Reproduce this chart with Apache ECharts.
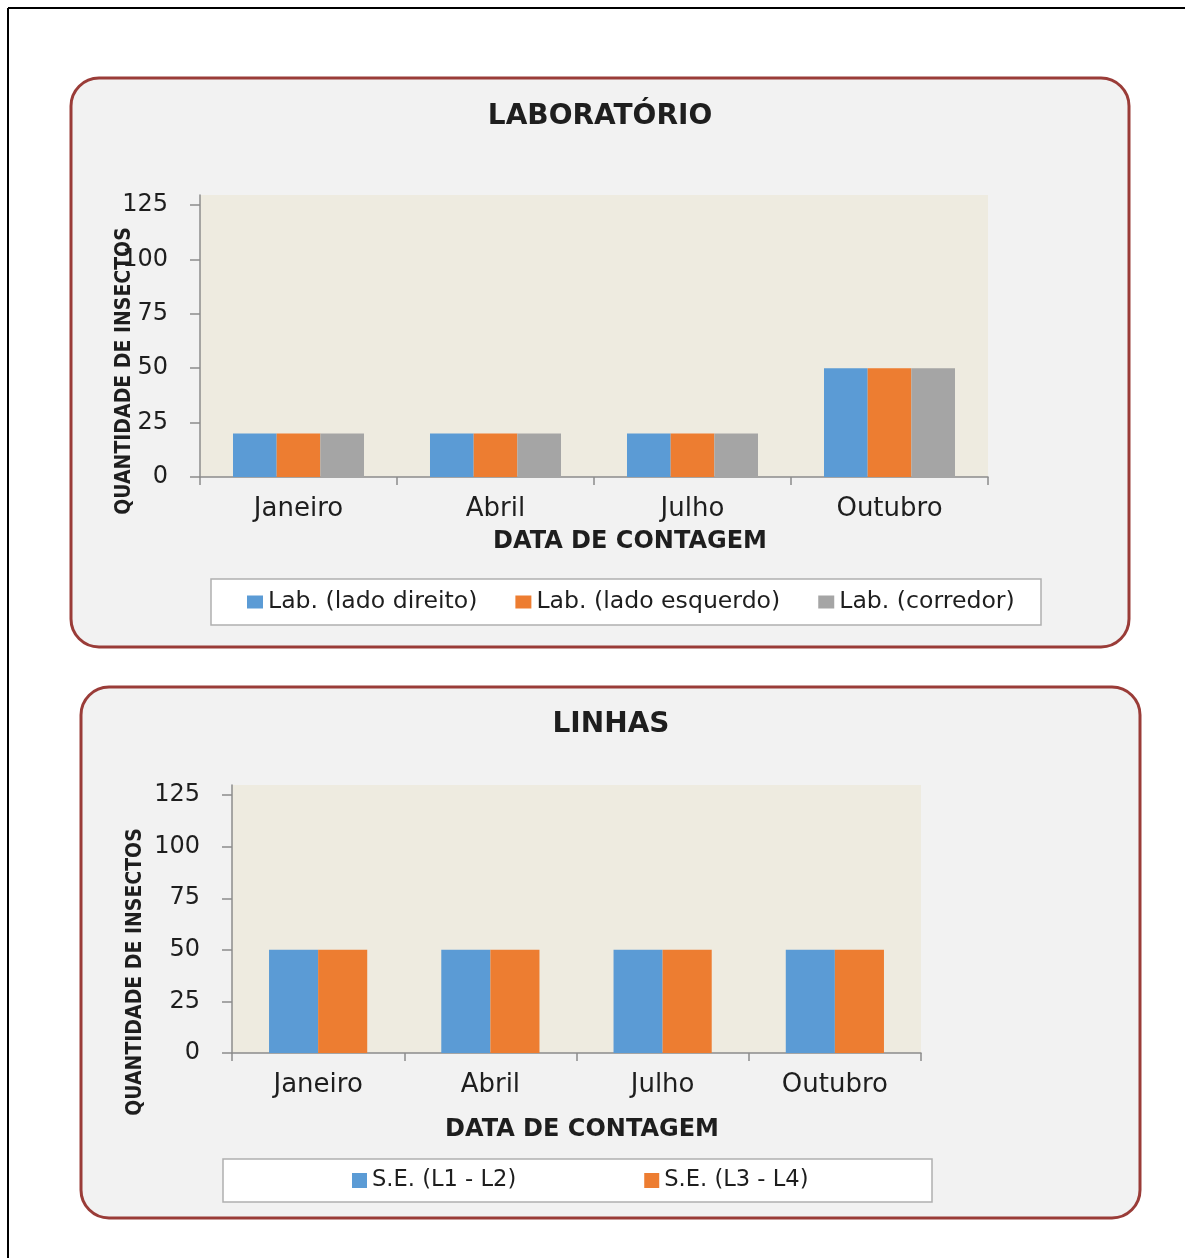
<!DOCTYPE html>
<html>
<head>
<meta charset="utf-8">
<title>Quantidade de insectos</title>
<script src="https://cdn.jsdelivr.net/npm/echarts@6/dist/echarts.min.js"></script>
<style>
html, body { margin: 0; padding: 0; background: #fff; }
#chart { width: 1185px; height: 1258px; }
</style>
</head>
<body>
<div id="chart"></div>
<script>
// dados
var categories = ['Janeiro', 'Abril', 'Julho', 'Outubro'];
var yTicks = [0, 25, 50, 75, 100, 125];

var labNames = ['Lab. (lado direito)', 'Lab. (lado esquerdo)', 'Lab. (corredor)'];
var labDireito = [20, 20, 20, 50];
var labEsquerdo = [20, 20, 20, 50];
var labCorredor = [20, 20, 20, 50];

var linhasNames = ['S.E. (L1 - L2)', 'S.E. (L3 - L4)'];
var linhasL1L2 = [50, 50, 50, 50];
var linhasL3L4 = [50, 50, 50, 50];

var FONT = "'DejaVu Sans', sans-serif";
var TXT = '#1e1e1e';
var AXIS = '#8c8c8c';
var BOX = '#9a3c38';

function xAxisCfg(grid) {
  return {
    type: 'category', gridIndex: grid, data: categories,
    axisLine: { lineStyle: { color: AXIS, width: 1.5 } },
    axisTick: { show: true, length: 8, lineStyle: { color: AXIS, width: 1.5 } },
    axisLabel: { fontSize: 26, color: TXT, margin: 19, fontFamily: FONT },
    splitLine: { show: false }
  };
}
function yAxisCfg(grid, max) {
  return {
    type: 'value', gridIndex: grid, min: 0, max: max,
    axisLine: { show: true, lineStyle: { color: AXIS, width: 1.5 } },
    axisTick: { show: true, length: 10, customValues: yTicks, lineStyle: { color: AXIS, width: 1.5 } },
    axisLabel: { fontSize: 24, color: TXT, margin: 32, fontFamily: FONT, customValues: yTicks },
    splitLine: { show: false }
  };
}
function txt(x, y, s, size, rot, fam) {
  return {
    type: 'text', x: x, y: y, rotation: rot || 0, z: 10,
    style: { text: s, fill: TXT, font: 'bold ' + size + 'px ' + (fam || FONT), align: 'center', verticalAlign: 'middle' }
  };
}

var chart = echarts.init(document.getElementById('chart'));
chart.setOption({
  backgroundColor: '#ffffff',
  animation: false,
  color: ['#5b9bd5', '#ed7d31', '#a5a5a5'],
  grid: [
    { left: 200, top: 195, width: 788, height: 282, show: true, backgroundColor: '#eeebe0', borderWidth: 0 },
    { left: 232, top: 785, width: 689, height: 268, show: true, backgroundColor: '#eeebe0', borderWidth: 0 }
  ],
  xAxis: [xAxisCfg(0), xAxisCfg(1)],
  yAxis: [yAxisCfg(0, 129.6), yAxisCfg(1, 129.9)],
  legend: [
    {
      data: labNames, left: 247, top: 590, padding: 0, itemGap: 38,
      itemWidth: 16, itemHeight: 13, icon: 'rect',
      textStyle: { fontSize: 23.6, color: TXT, fontFamily: FONT }
    },
    {
      data: linhasNames, left: 352, top: 1169, padding: 0, itemGap: 128,
      itemWidth: 15, itemHeight: 15, icon: 'rect',
      textStyle: { fontSize: 22.6, color: TXT, fontFamily: FONT }
    }
  ],
  series: [
    { name: labNames[0], type: 'bar', xAxisIndex: 0, yAxisIndex: 0, data: labDireito, barGap: '0%', barCategoryGap: '33.5%' },
    { name: labNames[1], type: 'bar', xAxisIndex: 0, yAxisIndex: 0, data: labEsquerdo, barGap: '0%', barCategoryGap: '33.5%' },
    { name: labNames[2], type: 'bar', xAxisIndex: 0, yAxisIndex: 0, data: labCorredor, barGap: '0%', barCategoryGap: '33.5%' },
    { name: linhasNames[0], type: 'bar', xAxisIndex: 1, yAxisIndex: 1, data: linhasL1L2, barGap: '0%', barCategoryGap: '43%', itemStyle: { color: '#5b9bd5' } },
    { name: linhasNames[1], type: 'bar', xAxisIndex: 1, yAxisIndex: 1, data: linhasL3L4, barGap: '0%', barCategoryGap: '43%', itemStyle: { color: '#ed7d31' } }
  ],
  graphic: { elements: [
    // moldura da página
    { type: 'line', z: -20, shape: { x1: 8, y1: 8, x2: 1185, y2: 8 }, style: { stroke: '#000', lineWidth: 2 } },
    { type: 'line', z: -20, shape: { x1: 8, y1: 8, x2: 8, y2: 1258 }, style: { stroke: '#000', lineWidth: 2 } },
    // caixas arredondadas
    { type: 'rect', z: -10, shape: { x: 71, y: 78, width: 1058, height: 569, r: 28 }, style: { fill: '#f2f2f2', stroke: BOX, lineWidth: 3 } },
    { type: 'rect', z: -10, shape: { x: 81, y: 687, width: 1059, height: 531, r: 28 }, style: { fill: '#f2f2f2', stroke: BOX, lineWidth: 3 } },
    // caixas das legendas
    { type: 'rect', z: -5, shape: { x: 211, y: 579, width: 830, height: 46 }, style: { fill: '#fff', stroke: '#b0b0b0', lineWidth: 1.5 } },
    { type: 'rect', z: -5, shape: { x: 223, y: 1159, width: 709, height: 43 }, style: { fill: '#fff', stroke: '#b0b0b0', lineWidth: 1.5 } },
    // títulos
    txt(600, 117, 'LABORATÓRIO', 28),
    txt(611, 725, 'LINHAS', 28),
    txt(630, 542, 'DATA DE CONTAGEM', 24),
    txt(582, 1130, 'DATA DE CONTAGEM', 24),
    txt(125, 371, 'QUANTIDADE DE INSECTOS', 21, Math.PI / 2, "'DejaVu Sans Condensed', 'DejaVu Sans', sans-serif"),
    txt(136, 972, 'QUANTIDADE DE INSECTOS', 21, Math.PI / 2, "'DejaVu Sans Condensed', 'DejaVu Sans', sans-serif")
  ] }
});
</script>
</body>
</html>
